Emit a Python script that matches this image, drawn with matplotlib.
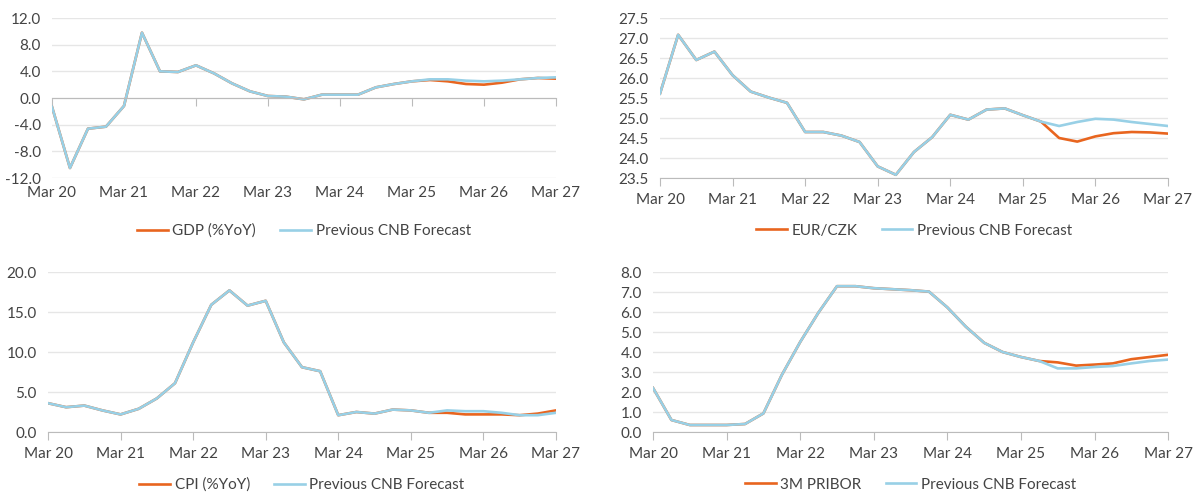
import numpy as np
import matplotlib.pyplot as plt

plt.rcParams['font.family'] = ['Lato', 'DejaVu Sans']

year_labels = ['Mar 20', 'Mar 21', 'Mar 22', 'Mar 23', 'Mar 24', 'Mar 25', 'Mar 26', 'Mar 27']

# quarterly, Mar 20 .. Mar 27 (29 points)
gdp_prev = [-1.3, -10.5, -4.6, -4.3, -1.2, 9.8, 4.0, 3.9, 4.9, 3.7, 2.2, 1.0, 0.3, 0.2, -0.2,
            0.5, 0.5, 0.5, 1.6, 2.1, 2.5, 2.8, 2.8, 2.6, 2.5, 2.6, 2.8, 3.0, 3.1]
gdp_new = [-1.3, -10.5, -4.6, -4.3, -1.2, 9.8, 4.0, 3.9, 4.9, 3.7, 2.2, 1.0, 0.3, 0.2, -0.2,
           0.5, 0.5, 0.5, 1.6, 2.1, 2.5, 2.7, 2.5, 2.1, 2.0, 2.3, 2.8, 3.0, 2.9]

eur_prev = [25.61, 27.08, 26.45, 26.66, 26.07, 25.66, 25.51, 25.38, 24.65, 24.65, 24.56, 24.40,
            23.79, 23.58, 24.15, 24.52, 25.08, 24.96, 25.21, 25.24, 25.07, 24.91, 24.80, 24.90,
            24.98, 24.96, 24.90, 24.85, 24.80]
eur_new = [25.61, 27.08, 26.45, 26.66, 26.07, 25.66, 25.51, 25.38, 24.65, 24.65, 24.56, 24.40,
           23.79, 23.58, 24.15, 24.52, 25.08, 24.96, 25.21, 25.24, 25.07, 24.91, 24.50, 24.41,
           24.54, 24.62, 24.65, 24.64, 24.61]

cpi_prev = [3.6, 3.1, 3.3, 2.7, 2.2, 2.9, 4.2, 6.1, 11.2, 15.9, 17.7, 15.8, 16.4, 11.2, 8.1,
            7.6, 2.1, 2.5, 2.3, 2.8, 2.7, 2.4, 2.7, 2.6, 2.6, 2.4, 2.1, 2.1, 2.4]
cpi_new = [3.6, 3.1, 3.3, 2.7, 2.2, 2.9, 4.2, 6.1, 11.2, 15.9, 17.7, 15.8, 16.4, 11.2, 8.1,
           7.6, 2.1, 2.5, 2.3, 2.8, 2.7, 2.4, 2.4, 2.2, 2.2, 2.2, 2.1, 2.3, 2.7]

pribor_prev = [2.2, 0.6, 0.35, 0.35, 0.35, 0.4, 0.93, 2.85, 4.5, 5.98, 7.29, 7.29, 7.19, 7.14,
               7.09, 7.02, 6.23, 5.27, 4.46, 4.0, 3.75, 3.55, 3.18, 3.18, 3.25, 3.3, 3.43, 3.55, 3.62]
pribor_new = [2.2, 0.6, 0.35, 0.35, 0.35, 0.4, 0.93, 2.85, 4.5, 5.98, 7.29, 7.29, 7.19, 7.14,
              7.09, 7.02, 6.23, 5.27, 4.46, 4.0, 3.75, 3.55, 3.48, 3.32, 3.37, 3.43, 3.64, 3.75, 3.86]

orange = '#E8651F'
blue = '#98D0E6'
txt = '#444444'
grid_c = '#E6E6E6'
axis_c = '#BBBBBB'

x = np.arange(len(gdp_prev))

fig = plt.figure(figsize=(12, 5), dpi=100)

# [left, bottom, width, height] in figure fraction (pixels / 1200, 500)
panels = [
    (0.0433, 0.644, 0.420, 0.320, gdp_new, gdp_prev, 'GDP (%YoY)', (-12, 12), np.arange(-12, 12.1, 4), 0),
    (0.550, 0.644, 0.4233, 0.320, eur_new, eur_prev, 'EUR/CZK', (23.5, 27.5), np.arange(23.5, 27.51, 0.5), None),
    (0.040, 0.136, 0.4233, 0.320, cpi_new, cpi_prev, 'CPI (%YoY)', (0, 20), np.arange(0, 20.1, 5), None),
    (0.5442, 0.136, 0.4292, 0.320, pribor_new, pribor_prev, '3M PRIBOR', (0, 8), np.arange(0, 8.1, 1), None),
]

for left, bottom, w, h, new, prev, name, ylim, yticks, zero in panels:
    ax = fig.add_axes([left, bottom, w, h])
    ax.plot(x, new, color=orange, lw=1.9, label=name, solid_joinstyle='round')
    ax.plot(x, prev, color=blue, lw=1.9, label='Previous CNB Forecast', solid_joinstyle='round')
    ax.set_xlim(0, 28)
    ax.set_ylim(*ylim)
    ax.set_yticks(yticks)
    ax.set_yticklabels(['%.1f' % v for v in yticks])
    ax.grid(axis='y', color=grid_c, lw=1)
    ax.set_axisbelow(True)
    for s in ['top', 'right', 'left']:
        ax.spines[s].set_visible(False)
    ax.spines['bottom'].set_color(axis_c)
    ax.tick_params(axis='y', length=0, labelsize=11, labelcolor=txt, pad=8)
    ax.set_xticks(np.arange(0, 29, 4))
    ax.tick_params(axis='x', direction='out', length=6, color=axis_c, labelsize=11,
                   labelcolor=txt, pad=5)
    if zero is not None:
        ax.spines['bottom'].set_position(('data', zero))
        ax.tick_params(axis='x', labelbottom=False)
        sec = ax.secondary_xaxis('bottom')
        sec.spines['bottom'].set_visible(False)
        sec.set_xticks(np.arange(0, 29, 4))
        sec.set_xticklabels(year_labels)
        sec.tick_params(axis='x', length=0, labelsize=11, labelcolor=txt, pad=6)
    else:
        ax.set_xticklabels(year_labels)
    ax.legend(loc='upper center', bbox_to_anchor=(0.5, -0.20), ncol=2, frameon=False,
              fontsize=11, labelcolor=txt, handlelength=2.0, columnspacing=1.6, handletextpad=0.3)

fig.savefig('out.png', dpi=100, facecolor='white')
